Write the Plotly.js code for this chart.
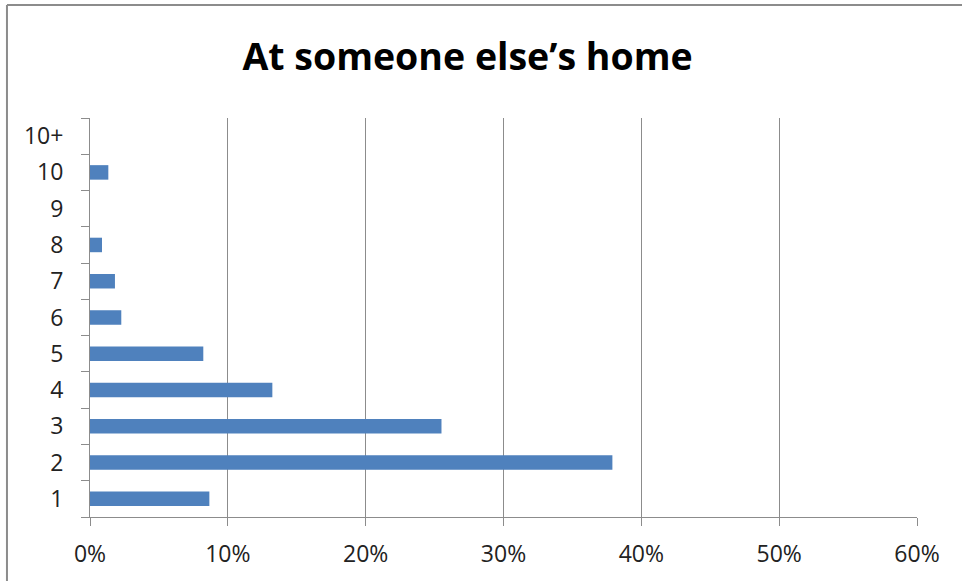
<!DOCTYPE html>
<html>
<head>
<meta charset="utf-8">
<script src="https://cdn.plot.ly/plotly-3.0.1.min.js"></script>
<style>html,body{margin:0;padding:0;background:#fff;}#chart{width:962px;height:581px;}</style>
</head>
<body>
<div id="chart"></div>
<script>
var categories = ["1", "2", "3", "4", "5", "6", "7", "8", "9", "10", "10+"];
var shares = [0.0866, 0.379, 0.255, 0.1323, 0.0822, 0.0227, 0.0181, 0.0087, 0, 0.0133, 0];
var xTickValues = [0, 0.1, 0.2, 0.3, 0.4, 0.5, 0.6];
var chartTitle = "At someone else’s home";

var trace = {
  type: "bar",
  orientation: "h",
  y: categories,
  x: shares,
  marker: {color: "#4F81BD", line: {width: 0}},
  hoverinfo: "skip"
};

var layout = {
  width: 962,
  height: 581,
  margin: {l: 90, r: 45, t: 118, b: 64, pad: 0},
  paper_bgcolor: "#ffffff",
  plot_bgcolor: "#ffffff",
  showlegend: false,
  bargap: 0.6,
  title: {
    text: chartTitle,
    font: {family: "Open Sans", size: 37.5, color: "#000000", weight: "bold"},
    x: 0.4565, xanchor: "center", xref: "paper",
    y: 0.902, yanchor: "middle", yref: "container"
  },
  xaxis: {
    range: [0, 0.6],
    tickvals: xTickValues,
    tickformat: ".0%",
    showgrid: true,
    gridcolor: "#8c8c8c",
    gridwidth: 1,
    zeroline: false,
    showline: true,
    linecolor: "#8c8c8c",
    linewidth: 1,
    ticks: "outside",
    ticklen: 8,
    tickcolor: "#8c8c8c",
    ticklabelstandoff: 8,
    tickfont: {family: "Open Sans", size: 23, color: "#222222"},
    fixedrange: true
  },
  yaxis: {
    type: "category",
    showgrid: false,
    zeroline: false,
    showline: true,
    linecolor: "#8c8c8c",
    linewidth: 1,
    ticks: "outside",
    tickson: "boundaries",
    ticklen: 8,
    tickcolor: "#8c8c8c",
    ticklabelstandoff: 21,
    tickfont: {family: "Open Sans", size: 23, color: "#222222"},
    fixedrange: true
  },
  shapes: [
    {type: "line", xref: "paper", yref: "paper", x0: -0.1004, x1: -0.1004, y0: -0.5, y1: 1.283,
     line: {color: "#8c8c8c", width: 2}},
    {type: "line", xref: "paper", yref: "paper", x0: -0.1004, x1: 1.2, y0: 1.283, y1: 1.283,
     line: {color: "#8c8c8c", width: 2}}
  ]
};

Plotly.newPlot("chart", [trace], layout, {displayModeBar: false, staticPlot: true});
</script>
</body>
</html>
